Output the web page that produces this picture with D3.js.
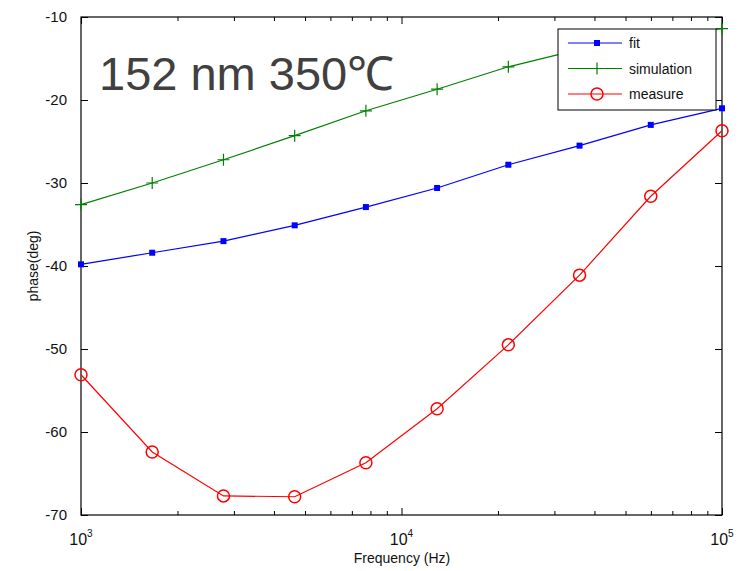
<!DOCTYPE html>
<html>
<head>
<meta charset="utf-8">
<script src="https://cdn.jsdelivr.net/npm/d3@7"></script>
<style>
  body { margin: 0; background: #fff; }
  svg { display: block; font-family: Arial, "Liberation Sans", sans-serif; }
</style>
</head>
<body>
<svg width="742" height="571"></svg>
<script>
// frequencies (Hz), 10 points log-spaced between 1e3 and 1e5
const freq = [1000, 1668, 2783, 4642, 7743, 12915, 21544, 35938, 59948, 100000];
const fit = [-39.8, -38.4, -37.0, -35.1, -32.9, -30.6, -27.8, -25.5, -23.0, -21.0];
const simulation = [-32.6, -30.0, -27.2, -24.3, -21.3, -18.7, -16.0, -13.9, -12.5, -11.4];
const measure = [-53.1, -62.4, -67.7, -67.8, -63.7, -57.2, -49.5, -41.1, -31.6, -23.7];
const yTicks = [-70, -60, -50, -40, -30, -20, -10];
const xMajor = [1e3, 1e4, 1e5];

var svg = d3.select('svg');

var x = d3.scaleLog()
    .domain([1e3, 1e5])
    .range([81, 722]);

var y = d3.scaleLinear()
    .domain([-70, -10])
    .range([515, 17]);

var minor = [];
[1e3, 1e4].forEach((d) => { for (let k = 2; k < 10; k++) minor.push(d * k); });

/////////////////////////////
// AXES (matlab style, ticks inward)
/////////////////////////////
function styleAxis(g) {
    g.select('.domain').remove();
    g.selectAll('.tick line').attr('stroke', '#000');
    g.selectAll('.tick text').attr('fill', '#111').style('font-size', '15px');
}

svg.append('g')
    .attr('transform', 'translate(0,515)')
    .call(d3.axisBottom(x).tickValues(xMajor).tickSize(-7).tickFormat(''))
    .call(styleAxis);
svg.append('g')
    .attr('transform', 'translate(0,515)')
    .call(d3.axisBottom(x).tickValues(minor).tickSize(-4).tickFormat(''))
    .call(styleAxis);
svg.append('g')
    .attr('transform', 'translate(0,17)')
    .call(d3.axisTop(x).tickValues(xMajor).tickSize(-7).tickFormat(''))
    .call(styleAxis);
svg.append('g')
    .attr('transform', 'translate(0,17)')
    .call(d3.axisTop(x).tickValues(minor).tickSize(-4).tickFormat(''))
    .call(styleAxis);

svg.append('g')
    .attr('transform', 'translate(81,0)')
    .call(d3.axisLeft(y).tickValues(yTicks).tickSize(-7).tickPadding(14).tickFormat((d) => String(d)))
    .call(styleAxis);
svg.append('g')
    .attr('transform', 'translate(722,0)')
    .call(d3.axisRight(y).tickValues(yTicks).tickSize(-7).tickFormat(''))
    .call(styleAxis);

// x tick labels with exponent
var xl = svg.append('g').selectAll('text')
    .data(xMajor)
    .enter()
    .append('text')
        .attr('x', (d) => x(d))
        .attr('y', 545)
        .attr('text-anchor', 'middle')
        .attr('fill', '#111')
        .style('font-size', '16px');
xl.append('tspan').text('10');
xl.append('tspan')
    .attr('dy', -8)
    .style('font-size', '10px')
    .text((d) => Math.round(Math.log10(d)));

// box
svg.append('rect')
    .attr('x', 81).attr('y', 17)
    .attr('width', 641).attr('height', 498)
    .attr('fill', 'none')
    .attr('stroke', '#000')
    .attr('stroke-width', 1.2);

svg.append('text')
    .attr('x', 402).attr('y', 563)
    .attr('text-anchor', 'middle')
    .attr('fill', '#111')
    .style('font-size', '14px')
    .text('Frequency (Hz)');

svg.append('text')
    .attr('transform', 'translate(38,266) rotate(-90)')
    .attr('text-anchor', 'middle')
    .attr('fill', '#111')
    .style('font-size', '14px')
    .text('phase(deg)');

/////////////////////////////
// SERIES
/////////////////////////////
var line = d3.line()
    .x((d) => x(d[0]))
    .y((d) => y(d[1]));

var series = [
    { name: 'fit', values: fit, color: '#0000ff', marker: 'square' },
    { name: 'simulation', values: simulation, color: '#008000', marker: 'plus' },
    { name: 'measure', values: measure, color: '#ff0000', marker: 'circle' }
];

function drawMarker(g, type, color, cx, cy) {
    if (type == 'square') {
        g.append('rect')
            .attr('x', cx - 3).attr('y', cy - 3)
            .attr('width', 6).attr('height', 6)
            .attr('fill', color);
    } else if (type == 'plus') {
        g.append('path')
            .attr('d', `M${cx - 6},${cy}H${cx + 6}M${cx},${cy - 6}V${cy + 6}`)
            .attr('stroke', color)
            .attr('stroke-width', 1.2);
    } else {
        g.append('circle')
            .attr('cx', cx).attr('cy', cy)
            .attr('r', 6)
            .attr('fill', 'none')
            .attr('stroke', color)
            .attr('stroke-width', 1.5);
    }
}

series.forEach((s) => {
    var pts = freq.map((f, i) => [f, s.values[i]]);
    var g = svg.append('g').attr('class', s.name);
    g.append('path')
        .attr('d', line(pts))
        .attr('fill', 'none')
        .attr('stroke', s.color)
        .attr('stroke-width', 1.2);
    pts.forEach((p) => drawMarker(g, s.marker, s.color, x(p[0]), y(p[1])));
});

/////////////////////////////
// LEGEND
/////////////////////////////
var legend = svg.append('g');
legend.append('rect')
    .attr('x', 558).attr('y', 29)
    .attr('width', 158).attr('height', 81)
    .attr('fill', '#fff')
    .attr('stroke', '#000')
    .attr('stroke-width', 1);

series.forEach((s, i) => {
    var ly = 43 + i * 25.5;
    legend.append('line')
        .attr('x1', 568).attr('x2', 622)
        .attr('y1', ly).attr('y2', ly)
        .attr('stroke', s.color)
        .attr('stroke-width', 1.2);
    drawMarker(legend, s.marker, s.color, 597, ly);
    legend.append('text')
        .attr('x', 629).attr('y', ly + 5)
        .attr('fill', '#111')
        .style('font-size', '14px')
        .text(s.name);
});

// annotation
svg.append('text')
    .attr('x', 99).attr('y', 90)
    .attr('fill', '#404040')
    .style('font-size', '47px')
    .text('152 nm 350℃');
</script>
</body>
</html>
